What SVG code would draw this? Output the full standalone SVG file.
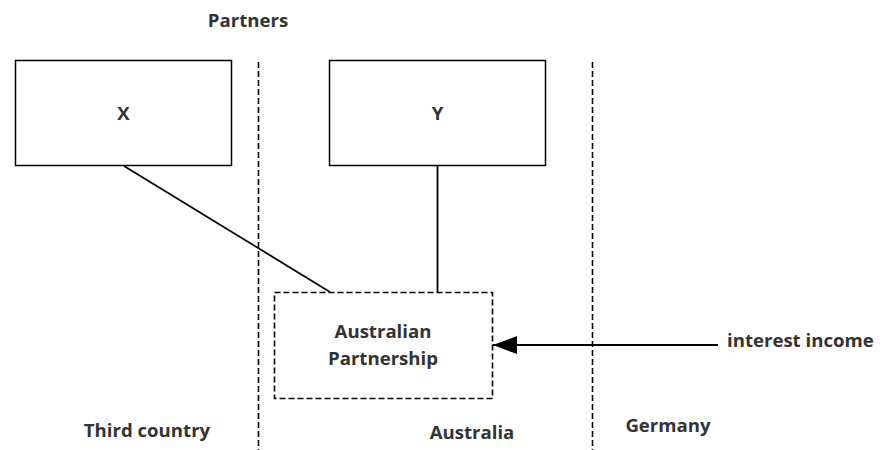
<svg xmlns="http://www.w3.org/2000/svg" width="880" height="450" viewBox="0 0 880 450">
  <style>
    .lbl { font-family: "Open Sans", "Noto Sans", "DejaVu Sans", sans-serif; font-weight: bold; font-size: 18.6px; fill: #333; }
    .box { fill: #fff; stroke: #000; stroke-width: 1.5; }
    .dash { fill: none; stroke: #000; stroke-width: 1.6; stroke-dasharray: 6 3; }
    .conn { stroke: #000; stroke-width: 1.8; fill: none; }
  </style>
  <defs>
    <marker id="arrow" markerWidth="24" markerHeight="18" refX="24" refY="9" orient="auto" markerUnits="userSpaceOnUse">
      <path d="M0,0 L24,9 L0,18 Z" fill="#000"/>
    </marker>
  </defs>
  <rect width="880" height="450" fill="#fff"/>

  <!-- country borders -->
  <g id="borders">
    <line class="dash" x1="258.5" y1="62" x2="258.5" y2="450"/>
    <line class="dash" x1="592.5" y1="62" x2="592.5" y2="450"/>
  </g>

  <!-- region labels -->
  <text class="lbl" x="248" y="27" text-anchor="middle">Partners</text>
  <text class="lbl" x="147" y="437" text-anchor="middle">Third country</text>
  <text class="lbl" x="472" y="439" text-anchor="middle">Australia</text>
  <text class="lbl" x="668" y="432" text-anchor="middle">Germany</text>

  <g id="connectors">
    <line class="conn" x1="124" y1="166" x2="330" y2="292"/>
    <line class="conn" x1="437.5" y1="166" x2="437.5" y2="292"/>
    <line class="conn" x1="718" y1="345" x2="493" y2="345" marker-end="url(#arrow)"/>
  </g>

  <g id="node-x">
    <rect class="box" x="15.5" y="60.5" width="216" height="105"/>
    <text class="lbl" x="123.5" y="120" text-anchor="middle">X</text>
  </g>

  <g id="node-y">
    <rect class="box" x="329.5" y="60.5" width="216" height="105"/>
    <text class="lbl" x="437.5" y="120" text-anchor="middle">Y</text>
  </g>

  <g id="node-partnership">
    <rect class="dash" x="274.5" y="292.5" width="218" height="106" fill="#fff"/>
    <text class="lbl" x="383" y="338" text-anchor="middle">Australian</text>
    <text class="lbl" x="383" y="365" text-anchor="middle">Partnership</text>
  </g>

  <g id="node-income">
    <text class="lbl" x="727" y="347">interest income</text>
  </g>
</svg>
